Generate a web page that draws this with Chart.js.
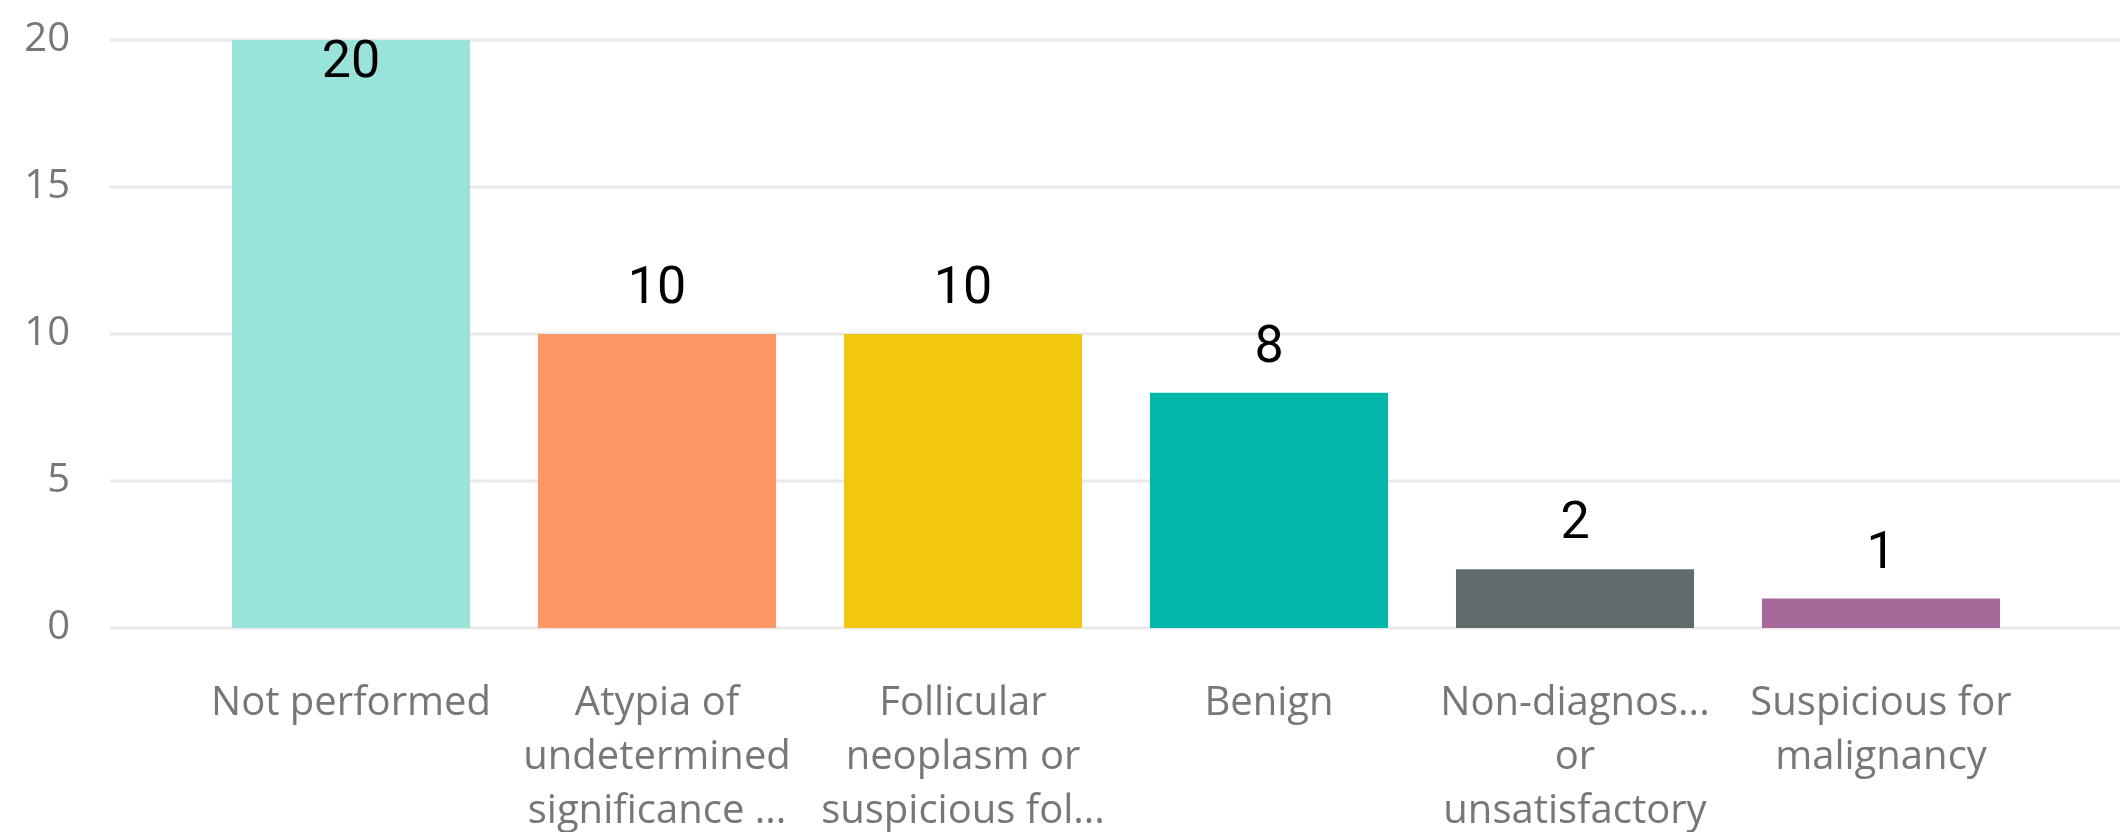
<!DOCTYPE html>
<html>
<head>
<meta charset="utf-8">
<script src="https://cdn.jsdelivr.net/npm/chart.js@4"></script>
<style>
  html, body { margin: 0; padding: 0; background: #fff; }
  #wrap { width: 2120px; height: 832px; }
</style>
</head>
<body>
<div id="wrap"><canvas id="resultChart"></canvas></div>
<script>
// chart data
const categories = [
  'Not performed',
  ['Atypia of', 'undetermined', 'significance ...'],
  ['Follicular', 'neoplasm or', 'suspicious fol...'],
  'Benign',
  ['Non-diagnos...', 'or', 'unsatisfactory'],
  ['Suspicious for', 'malignancy']
];
const counts = [20, 10, 10, 8, 2, 1];
const barColors = ['#99E3DB', '#FE9666', '#F2C80F', '#01B8AA', '#5F6B6D', '#A66999'];
const yTicks = [0, 5, 10, 15, 20];

// gridlines run wider than the bar area, so draw them by hand from the y scale
const wideGrid = {
  id: 'wideGrid',
  beforeDatasetsDraw(chart) {
    const ctx = chart.ctx;
    const y = chart.scales.y;
    ctx.save();
    ctx.strokeStyle = '#E9E9E9';
    ctx.lineWidth = 3;
    yTicks.forEach(v => {
      const py = y.getPixelForValue(v);
      ctx.beginPath();
      ctx.moveTo(110, py);
      ctx.lineTo(chart.width, py);
      ctx.stroke();
    });
    ctx.restore();
  }
};

// value labels above each bar (inside when there is no room)
const barLabels = {
  id: 'barLabels',
  afterDatasetsDraw(chart) {
    const ctx = chart.ctx;
    const meta = chart.getDatasetMeta(0);
    ctx.save();
    ctx.font = '52px Roboto';
    ctx.fillStyle = '#000';
    ctx.textAlign = 'center';
    ctx.textBaseline = 'alphabetic';
    meta.data.forEach((bar, i) => {
      let base = bar.y - 31;
      if (base - 38 < 0) base = bar.y + 37;
      ctx.fillText(String(counts[i]), bar.x, base);
    });
    ctx.restore();
  }
};

const ctx = document.getElementById('resultChart').getContext('2d');
new Chart(ctx, {
  type: 'bar',
  data: {
    labels: categories,
    datasets: [{
      data: counts,
      backgroundColor: barColors,
      categoryPercentage: 1,
      barPercentage: 0.778
    }]
  },
  options: {
    responsive: true,
    maintainAspectRatio: false,
    animation: false,
    layout: { padding: { top: 40, right: 86, left: 0, bottom: 0 } },
    plugins: { legend: { display: false }, tooltip: { enabled: false } },
    scales: {
      x: {
        grid: { display: false },
        border: { display: false },
        ticks: {
          color: '#777777',
          font: { family: 'Open Sans', size: 40, lineHeight: 1.35 },
          padding: 41,
          maxRotation: 0,
          autoSkip: false
        },
        afterFit: s => { s.height = 204; }
      },
      y: {
        min: 0,
        max: 20,
        grid: { display: false },
        border: { display: false },
        ticks: {
          stepSize: 5,
          color: '#777777',
          font: { family: 'Open Sans', size: 40 },
          padding: 120
        },
        afterFit: s => {
          s.width = 198;
          s.paddingTop = 0;
          s.paddingBottom = 0;
        }
      }
    }
  },
  plugins: [wideGrid, barLabels]
});
</script>
</body>
</html>
